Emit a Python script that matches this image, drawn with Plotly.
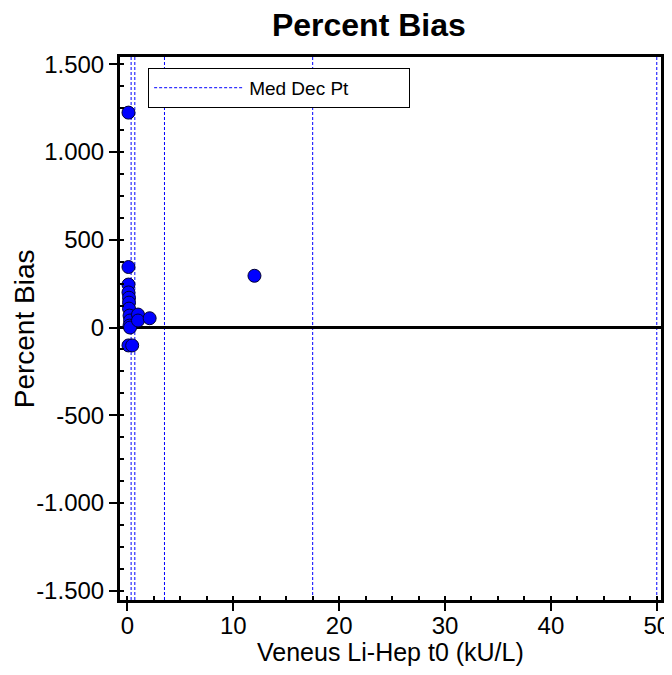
import plotly.graph_objects as go

# data
x_vals = [0.1, 0.1, 0.1, 0.1, 0.15, 0.15, 0.15, 0.2, 0.25, 0.2, 0.25, 1.0, 1.0, 2.1, 0.1, 0.45, 12.0]
y_vals = [1225, 345, 245, 200, 170, 142, 108, 68, 40, 11, 0, 74, 40, 53, -102, -102, 295]

med_dec_pts = [0.35, 0.7, 3.5, 17.5, 50]

x_ticks = [0, 10, 20, 30, 40, 50]
x_ticktext = ["0", "10", "20", "30", "40", "50"]
y_ticks = [-1500, -1000, -500, 0, 500, 1000, 1500]
y_ticktext = ["-1.500", "-1.000", "-500", "0", "500", "1.000", "1.500"]

x_range = [-0.7, 50.4]
y_range = [-1553, 1542]

font_family = "Arial, Liberation Sans, sans-serif"

fig = go.Figure()

for i, v in enumerate(med_dec_pts):
    fig.add_vline(x=v, line=dict(color="#0000ff", width=1, dash="3px,2px"),
                  showlegend=(i == 0), name="Med Dec Pt", layer="below")

fig.add_trace(go.Scatter(
    x=x_vals, y=y_vals, mode="markers", showlegend=False,
    marker=dict(color="#0000ff", size=13, line=dict(color="#000033", width=1)),
))

axis_common = dict(
    showline=True, linecolor="black", linewidth=3, mirror=True, automargin=False,
    showgrid=False, ticks="outside", ticklen=8, tickwidth=2, tickcolor="black",
    tickfont=dict(family=font_family, size=24, color="black"),
)

fig.update_xaxes(
    range=x_range, tickmode="array", tickvals=x_ticks, ticktext=x_ticktext,
    zeroline=False, ticklabelstandoff=-6, ticklabeloverflow="allow",
    minor=dict(ticks="inside", ticklen=4, tickwidth=1.5, tickcolor="black", dtick=2.5, tick0=0),
    **axis_common,
)
fig.update_yaxes(
    range=y_range, tickmode="array", tickvals=y_ticks, ticktext=y_ticktext,
    zeroline=True, zerolinecolor="black", zerolinewidth=2.5,
    minor=dict(ticks="inside", ticklen=4, tickwidth=1.5, tickcolor="black", dtick=125, tick0=0),
    **axis_common,
)

# axis titles as paper annotations so they sit where the reference has them
fig.add_annotation(text="Veneus Li-Hep t0 (kU/L)", xref="paper", yref="paper",
                   x=0.5, y=-0.095, xanchor="center", yanchor="middle", showarrow=False,
                   font=dict(family=font_family, size=25, color="black"))
fig.add_annotation(text="Percent Bias", xref="paper", yref="paper", textangle=-90,
                   x=-0.176, y=0.5, xanchor="center", yanchor="middle", showarrow=False,
                   font=dict(family=font_family, size=28, color="black"))

# page body adds an 8px offset, so the figure is made smaller than the window
fig.update_layout(
    width=664, height=659,
    margin=dict(l=112, r=11, t=49, b=67),
    paper_bgcolor="white", plot_bgcolor="white",
    font=dict(family=font_family, color="black"),
    title=dict(text="<b>Percent Bias</b>", x=0.46, xref="paper", xanchor="center",
               y=0.974, yanchor="middle", font=dict(size=32, family=font_family)),
    legend=dict(x=0.052, y=0.98, xanchor="left", yanchor="top", orientation="h",
                entrywidth=155, bgcolor="white", bordercolor="black", borderwidth=1,
                font=dict(size=19, family=font_family), itemwidth=90),
)

fig.write_html("out.html")
